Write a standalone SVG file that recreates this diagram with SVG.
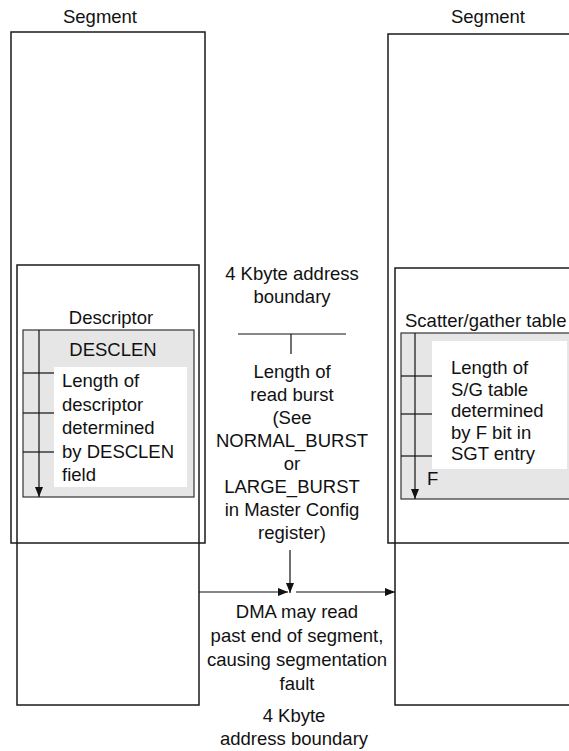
<svg xmlns="http://www.w3.org/2000/svg" width="569" height="751" viewBox="0 0 569 751">
  <style>
    text { font-family: "Liberation Sans", Arial, sans-serif; font-size: 18.5px; fill: #111; }
    .c { text-anchor: middle; }
    .seg { fill: none; stroke: #1a1a1a; stroke-width: 1.5; }
    .tbl { fill: #e6e6e6; stroke: #333; stroke-width: 1.2; }
    .note { fill: #fff; stroke: none; }
    .ln { stroke: #111; stroke-width: 1.2; fill: none; }
  </style>
  <defs>
    <marker id="arrow" viewBox="0 0 10 8" refX="10" refY="4" markerWidth="10" markerHeight="8" markerUnits="userSpaceOnUse" orient="auto">
      <path d="M0,0 L10,4 L0,8 z" fill="#111"/>
    </marker>
  </defs>

  <!-- Left segment pair -->
  <g id="left-segment">
    <text class="c" x="100" y="23">Segment</text>
    <rect class="seg" x="11" y="32" width="194" height="511"/>
  </g>
  <g id="left-next-segment">
    <rect class="seg" x="17" y="265" width="182" height="440"/>
  </g>

  <!-- Descriptor -->
  <g id="descriptor">
    <text class="c" x="111" y="324">Descriptor</text>
    <rect class="tbl" x="23" y="330" width="171" height="167"/>
    <text class="c" x="113" y="356">DESCLEN</text>
    <rect class="note" x="54" y="367" width="133" height="120"/>
    <line class="ln" x1="23" y1="373" x2="54" y2="373"/>
    <line class="ln" x1="23" y1="413" x2="54" y2="413"/>
    <line class="ln" x1="23" y1="452" x2="54" y2="452"/>
    <line class="ln" x1="39" y1="330" x2="39" y2="497" marker-end="url(#arrow)"/>
    <text x="62" y="387">Length of</text>
    <text x="62" y="410.5">descriptor</text>
    <text x="62" y="434">determined</text>
    <text x="62" y="457.5">by DESCLEN</text>
    <text x="62" y="481">field</text>
  </g>

  <!-- Right segment pair -->
  <g id="right-segment">
    <text class="c" x="488" y="23">Segment</text>
    <rect class="seg" x="388" y="34" width="200" height="509"/>
  </g>
  <g id="right-next-segment">
    <rect class="seg" x="395" y="268" width="200" height="437"/>
  </g>

  <!-- Scatter/gather table -->
  <g id="sg-table">
    <text x="405" y="327">Scatter/gather table</text>
    <rect class="tbl" x="401" y="333" width="190" height="166"/>
    <rect class="note" x="432" y="341" width="135" height="128"/>
    <line class="ln" x1="401" y1="376" x2="432" y2="376"/>
    <line class="ln" x1="401" y1="414" x2="432" y2="414"/>
    <line class="ln" x1="401" y1="456" x2="432" y2="456"/>
    <line class="ln" x1="415" y1="333" x2="415" y2="499" marker-end="url(#arrow)"/>
    <text x="451" y="374">Length of</text>
    <text x="451" y="395.5">S/G table</text>
    <text x="451" y="417">determined</text>
    <text x="451" y="438.5">by F bit in</text>
    <text x="451" y="460">SGT entry</text>
    <text x="427" y="485">F</text>
  </g>

  <!-- Boundary and burst annotation -->
  <g id="burst-label">
    <text class="c" x="292" y="280">4 Kbyte address</text>
    <text class="c" x="292" y="303">boundary</text>
    <text class="c" x="292" y="378">Length of</text>
    <text class="c" x="292" y="401">read burst</text>
    <text class="c" x="292" y="424">(See</text>
    <text class="c" x="292" y="447">NORMAL_BURST</text>
    <text class="c" x="292" y="470">or</text>
    <text class="c" x="292" y="493">LARGE_BURST</text>
    <text class="c" x="292" y="516">in Master Config</text>
    <text class="c" x="292" y="539">register)</text>
  </g>

  <g id="fault-label">
    <text class="c" x="297" y="618">DMA may read</text>
    <text class="c" x="297" y="642">past end of segment,</text>
    <text class="c" x="297" y="666">causing segmentation</text>
    <text class="c" x="297" y="690">fault</text>
    <text class="c" x="294" y="722">4 Kbyte</text>
    <text class="c" x="294" y="745">address boundary</text>
  </g>

  <!-- Connectors -->
  <g id="connectors">
    <line class="ln" x1="238" y1="334" x2="346" y2="334"/>
    <line class="ln" x1="291" y1="334" x2="291" y2="354"/>
    <line class="ln" x1="290" y1="550" x2="290" y2="593" marker-end="url(#arrow)"/>
    <line class="ln" x1="199" y1="592" x2="288" y2="592" marker-end="url(#arrow)"/>
    <line class="ln" x1="296" y1="592" x2="395" y2="592" marker-end="url(#arrow)"/>
  </g>
</svg>
